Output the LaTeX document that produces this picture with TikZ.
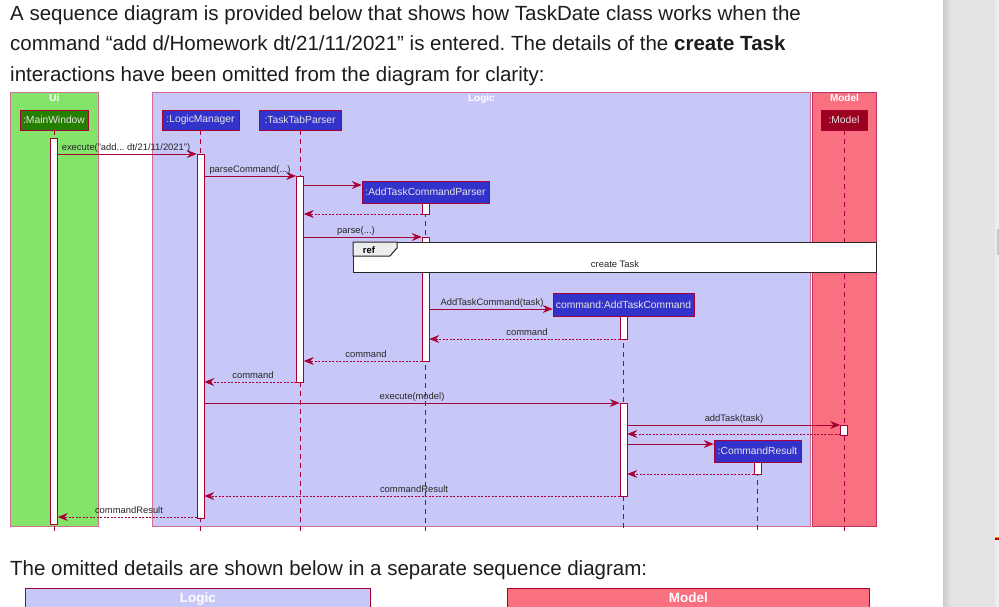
\documentclass[tikz,border=0pt]{standalone}
\usepackage{fontspec}
\setmainfont{Liberation Sans}
\usetikzlibrary{arrows.meta, positioning, calc}
\frenchspacing

\definecolor{uigreen}{RGB}{132,228,106}
\definecolor{mwgreen}{RGB}{38,128,0}
\definecolor{logicbg}{RGB}{200,200,248}
\definecolor{partblue}{RGB}{51,51,204}
\definecolor{modelbg}{RGB}{249,113,129}
\definecolor{modeldark}{RGB}{155,0,32}
\definecolor{crimson}{RGB}{168,0,54}
\definecolor{grpline}{RGB}{210,110,145}
\definecolor{pagetext}{RGB}{28,28,28}
\definecolor{sidegray}{RGB}{228,228,228}

\begin{document}
\begin{tikzpicture}[x=1pt, y=-1pt,
    grp/.style    = {draw=grpline, line width=0.9pt, anchor=north west, inner sep=0pt},
    gtitle/.style = {below=2.5pt, inner sep=0pt, text=white,
                     font=\bfseries\fontsize{10}{11}\selectfont},
    part/.style   = {draw=crimson, line width=0.7pt, minimum height=20pt, inner sep=0pt,
                     text=white!90!black, font=\fontsize{10.3}{12}\selectfont},
    act/.style    = {draw=crimson, fill=white, line width=0.7pt, minimum width=7pt,
                     inner sep=0pt, anchor=north},
    life/.style   = {draw=crimson, line width=0.7pt, dash pattern=on 4.5pt off 4.5pt},
    msg/.style    = {draw=crimson, line width=0.7pt,
                     -{Stealth[length=10pt, width=8pt, inset=3.5pt]}},
    ret/.style    = {msg, dash pattern=on 2pt off 1.5pt},
    lbl/.style    = {anchor=base, inner sep=0pt, text=black!85,
                     font=\fontsize{9.4}{11}\selectfont},
    para/.style   = {anchor=base west, inner sep=0pt, text=pagetext,
                     font=\fontsize{20.5}{24}\selectfont},
  ]
  \useasboundingbox (0,0) rectangle (999,607);
  \clip (0,0) rectangle (999,607);

  % page side bar
  \fill[sidegray] (943,0) rectangle (999,607);
  \shade[left color=black!20, right color=sidegray] (943,0) rectangle (951,607);
  \fill[black!7] (995,0) rectangle (999,607);
  \fill[black!22] (997,229) rectangle (999,255);
  \fill[orange] (995,536.5) rectangle (999,538);
  \fill[red!75!black] (995,538) rectangle (999,539.5);

  % page text
  \node[para] (t1) at (10,20.5) {A sequence diagram is provided below that shows how TaskDate class works when the};
  \node[para] (t2) at (10,51) {command “add d/Homework dt/21/11/2021” is entered. The details of the \textbf{create Task}};
  \node[para] (t3) at (10,81.5) {interactions have been omitted from the diagram for clarity:};
  \node[para] (t4) at (10,575) {The omitted details are shown below in a separate sequence diagram:};

  % boxes
  \node[grp, fill=uigreen, minimum width=88pt, minimum height=434pt] (gUi) at (10,92) {};
  \node[gtitle] at (gUi.north) {Ui};
  \node[grp, fill=logicbg, minimum width=658pt, minimum height=434pt] (gLogic) at (152,92) {};
  \node[gtitle] at (gLogic.north) {Logic};
  \node[grp, fill=modelbg, draw=crimson!80, minimum width=64pt, minimum height=434pt] (gModel) at (812,92) {};
  \node[gtitle] at (gModel.north) {Model};

  % participants
  \node[part, fill=mwgreen, minimum width=68pt] (pMW) at (54,120) {:MainWindow};
  \node[part, fill=partblue, minimum width=77pt] (pLM) at (200.5,120) {:LogicManager};
  \node[part, fill=partblue, minimum width=82pt] (pTP) at (300,120) {:TaskTabParser};
  \node[part, fill=partblue, minimum width=127pt, minimum height=22pt] (pATCP) at (425.5,192) {:AddTaskCommandParser};
  \node[part, fill=partblue, minimum width=141pt, minimum height=23pt] (pATC) at (623.5,304.5) {command:AddTaskCommand};
  \node[part, fill=partblue, minimum width=87pt, minimum height=22pt] (pCR) at (757.5,451) {:CommandResult};
  \node[part, fill=modeldark, minimum width=46pt] (pM) at (844,120) {:Model};

  % lifelines
  \coordinate (rEnd) at (0,531);
  \foreach \p in {pMW, pLM, pTP, pATCP, pATC, pCR, pM}
    \draw[life] (\p.south) -- (\p.south |- rEnd);

  % activations
  \foreach \n/\p/\t/\b in {aMW/pMW/138/524, aLM/pLM/154/518, aTP/pTP/176/382,
                           aP1/pATCP/203/214, aP2/pATCP/237/361, aC1/pATC/316/339,
                           aC2/pATC/403/496, aM/pM/425/435, aR/pCR/462/474}
    \node[act, minimum height={(\b-\t)*1pt}] (\n) at (\p.south |- 0,\t) {};

  % message rows
  \foreach \n/\y in {r1/154, r2/176, r3/185, r4/214, r5/237, r7/309, r8/339, r9/361,
                     r10/382, r11/403, r12/425, r13/434, r14/444, r15/474, r16/496, r17/517}
    \coordinate (\n) at (0,\y);

  % messages
  \draw[msg] (aMW.east |- r1) -- (aLM.west |- r1);
  \draw[msg] (aLM.east |- r2) -- (aTP.west |- r2);
  \draw[msg] (aTP.east |- r3) -- (pATCP.west |- r3);
  \draw[ret] (aP1.west |- r4) -- (aTP.east |- r4);
  \draw[msg] (aTP.east |- r5) -- (aP2.west |- r5);
  \draw[msg] (aP2.east |- r7) -- (pATC.west |- r7);
  \draw[ret] (aC1.west |- r8) -- (aP2.east |- r8);
  \draw[ret] (aP2.west |- r9) -- (aTP.east |- r9);
  \draw[ret] (aTP.west |- r10) -- (aLM.east |- r10);
  \draw[msg] (aLM.east |- r11) -- (aC2.west |- r11);
  \draw[msg] (aC2.east |- r12) -- (aM.west |- r12);
  \draw[ret] (aM.west |- r13) -- (aC2.east |- r13);
  \draw[msg] (aC2.east |- r14) -- (pCR.west |- r14);
  \draw[ret] (aR.west |- r15) -- (aC2.east |- r15);
  \draw[ret] (aC2.west |- r16) -- (aLM.east |- r16);
  \draw[ret] (aLM.west |- r17) -- (aMW.east |- r17);

  % ref frame
  \node[draw=black!85, fill=white, line width=1.2pt, minimum width=523pt, minimum height=30pt,
        anchor=north west, inner sep=0pt] (ref) at (353,242) {};
  \draw[black!85, line width=1pt, fill=black!7] (ref.north west) -- ++(44,0) -- ++(0,6)
    -- ++(-7,8) -- (ref.north west |- 0,256) -- cycle;
  \node[anchor=base, inner sep=0pt, font=\bfseries\fontsize{9.4}{11}\selectfont] at (369,253.5) {ref};
  \node[lbl] at (615,267.5) {create Task};

  % labels
  \node[lbl] at (126,151) {execute("add... dt/21/11/2021")};
  \node[lbl] at (250,172.5) {parseCommand(...)};
  \node[lbl] at (356,233.5) {parse(...)};
  \node[lbl] at (492,305) {AddTaskCommand(task)};
  \node[lbl] at (527,335.5) {command};
  \node[lbl] at (366,357) {command};
  \node[lbl] at (253,378.5) {command};
  \node[lbl] at (412,399.5) {execute(model)};
  \node[lbl] at (734,421.5) {addTask(task)};
  \node[lbl] at (414,492.5) {commandResult};
  \node[lbl] at (129,513.5) {commandResult};

  % second diagram (cut off)
  \node[grp, draw=crimson, fill=logicbg, minimum width=345pt, minimum height=40pt] (gLogicB) at (25,588) {};
  \node[gtitle, below=4.5pt, font=\bfseries\fontsize{13.5}{15}\selectfont] at (gLogicB.north) {Logic};
  \node[grp, draw=crimson, fill=modelbg, minimum width=362pt, minimum height=40pt] (gModelB) at (507,588) {};
  \node[gtitle, below=4.5pt, font=\bfseries\fontsize{13.5}{15}\selectfont] at (gModelB.north) {Model};
\end{tikzpicture}
\end{document}
